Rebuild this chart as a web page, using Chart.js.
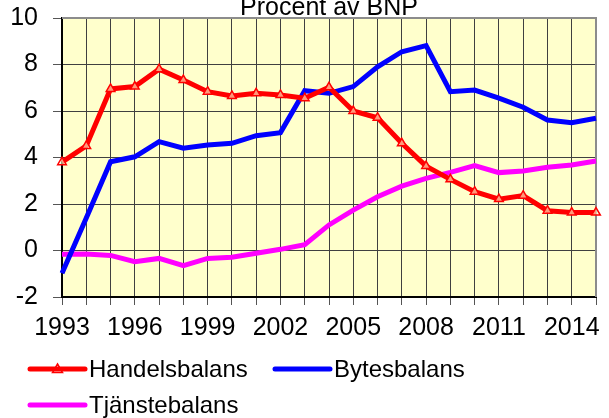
<!DOCTYPE html>
<html>
<head>
<meta charset="utf-8">
<script src="https://cdn.jsdelivr.net/npm/chart.js@4.4.1/dist/chart.umd.min.js"></script>
<style>
    html, body { margin: 0; padding: 0; background: #fff; }
    #wrap { position: relative; width: 609px; height: 418px; }
</style>
</head>
<body>
<div id="wrap"><canvas id="balansChart"></canvas></div>
<script>
// Data (procent av BNP)
const years = ['1993', '1994', '1995', '1996', '1997', '1998', '1999', '2000', '2001', '2002', '2003',
    '2004', '2005', '2006', '2007', '2008', '2009', '2010', '2011', '2012', '2013', '2014', '2015'];
const handelsbalans = [3.8, 4.5, 6.95, 7.05, 7.8, 7.33, 6.83, 6.65, 6.76, 6.69, 6.55,
    7.02, 6.0, 5.71, 4.61, 3.63, 3.06, 2.53, 2.21, 2.36, 1.71, 1.63, 1.63];
const bytesbalans = [-0.98, 1.4, 3.82, 4.03, 4.68, 4.4, 4.54, 4.61, 4.94, 5.07, 6.87,
    6.76, 7.05, 7.9, 8.55, 8.81, 6.83, 6.9, 6.55, 6.16, 5.61, 5.5, 5.69];
const tjanstebalans = [-0.16, -0.15, -0.21, -0.48, -0.34, -0.65, -0.34, -0.29, -0.12, 0.05, 0.25,
    1.1, 1.74, 2.31, 2.77, 3.1, 3.36, 3.65, 3.35, 3.42, 3.58, 3.68, 3.85];
const titleText = 'Procent av BNP';
const yMin = -2, yMax = 10, yStep = 2;
const labelEvery = 3;

const FONT = "'Liberation Sans', Arial, sans-serif";
Chart.defaults.font.family = FONT;
Chart.defaults.color = '#000';

// yellow plot background + gray top/right frame
const plotFrame = {
    id: 'plotFrame',
    beforeDraw(chart) {
        const a = chart.chartArea, ctx = chart.ctx;
        ctx.save();
        ctx.fillStyle = '#FFFFCC';
        ctx.fillRect(a.left, a.top, a.right - a.left, a.bottom - a.top);
        ctx.restore();
    },
    beforeDatasetsDraw(chart) {
        const a = chart.chartArea, ctx = chart.ctx;
        ctx.save();
        ctx.strokeStyle = '#8c8c8c';
        ctx.lineWidth = 2;
        ctx.beginPath();
        ctx.moveTo(a.left, a.top);
        ctx.lineTo(a.right, a.top);
        ctx.lineTo(a.right, a.bottom);
        ctx.stroke();
        ctx.restore();
    }
};

// title centred over the plot, partly cut at the top like the original
const topTitle = {
    id: 'topTitle',
    afterDraw(chart) {
        const a = chart.chartArea, ctx = chart.ctx;
        ctx.save();
        ctx.font = '25px ' + FONT;
        ctx.fillStyle = '#000';
        ctx.textAlign = 'center';
        ctx.textBaseline = 'alphabetic';
        ctx.fillText(titleText, (a.left + a.right) / 2, 15);
        ctx.restore();
    }
};

// legend laid out in two columns, left aligned
const sideLegend = {
    id: 'sideLegend',
    afterDraw(chart) {
        const ctx = chart.ctx;
        const slots = [
            { x: 30, y: 369 },
            { x: 275, y: 369 },
            { x: 30, y: 405 }
        ];
        chart.data.datasets.forEach((ds, i) => {
            const s = slots[i];
            ctx.save();
            ctx.strokeStyle = ds.borderColor;
            ctx.lineWidth = 5;
            ctx.lineCap = 'round';
            ctx.beginPath();
            ctx.moveTo(s.x, s.y);
            ctx.lineTo(s.x + 55, s.y);
            ctx.stroke();
            if (ds.pointStyle === 'triangle') {
                const cx = s.x + 27.5;
                ctx.lineWidth = 1.5;
                ctx.lineCap = 'butt';
                ctx.beginPath();
                ctx.moveTo(cx, s.y - 5);
                ctx.lineTo(cx + 5, s.y + 3.5);
                ctx.lineTo(cx - 5, s.y + 3.5);
                ctx.closePath();
                ctx.stroke();
            }
            ctx.font = '24px ' + FONT;
            ctx.fillStyle = '#000';
            ctx.textAlign = 'left';
            ctx.textBaseline = 'middle';
            ctx.fillText(ds.label, s.x + 59, s.y + 1);
            ctx.restore();
        });
    }
};

const ctx = document.getElementById('balansChart').getContext('2d');
new Chart(ctx, {
    type: 'line',
    data: {
        labels: years,
        datasets: [
            {
                label: 'Handelsbalans',
                data: handelsbalans,
                borderColor: '#FF0000',
                backgroundColor: '#FF0000',
                borderWidth: 5,
                tension: 0,
                pointStyle: 'triangle',
                pointRadius: 5,
                pointBorderWidth: 1.5,
                pointBorderColor: '#FF0000',
                pointBackgroundColor: 'rgba(255,255,204,0.6)',
                clip: false
            },
            {
                label: 'Bytesbalans',
                data: bytesbalans,
                borderColor: '#0000FF',
                backgroundColor: '#0000FF',
                borderWidth: 5,
                tension: 0,
                pointRadius: 0
            },
            {
                label: 'Tjänstebalans',
                data: tjanstebalans,
                borderColor: '#FF00FF',
                backgroundColor: '#FF00FF',
                borderWidth: 5,
                tension: 0,
                pointRadius: 0
            }
        ]
    },
    options: {
        responsive: true,
        maintainAspectRatio: false,
        animation: false,
        layout: {
            padding: { left: 0, right: 13, top: 18, bottom: 0 }
        },
        plugins: {
            legend: { display: false },
            title: { display: false },
            tooltip: { enabled: false }
        },
        scales: {
            x: {
                offset: false,
                afterFit(scale) {
                    scale.height = 121;
                    scale.paddingLeft = 0;
                    scale.paddingRight = 0;
                },
                grid: {
                    color: '#404040',
                    lineWidth: 1,
                    tickLength: 8,
                    tickColor: '#555'
                },
                border: { color: '#000', width: 2 },
                ticks: {
                    autoSkip: false,
                    maxRotation: 0,
                    padding: 8,
                    font: { size: 25 },
                    callback: function(value, index) {
                        return index % labelEvery === 0 ? this.getLabelForValue(value) : '';
                    }
                }
            },
            y: {
                min: yMin,
                max: yMax,
                afterFit(scale) {
                    scale.width = 62;
                    scale.paddingTop = 0;
                    scale.paddingBottom = 0;
                },
                grid: {
                    color: '#404040',
                    lineWidth: 1,
                    tickLength: 9,
                    tickColor: '#555'
                },
                border: { color: '#000', width: 2 },
                ticks: {
                    stepSize: yStep,
                    padding: 15,
                    font: { size: 25 }
                }
            }
        }
    },
    plugins: [plotFrame, topTitle, sideLegend]
});
</script>
</body>
</html>
